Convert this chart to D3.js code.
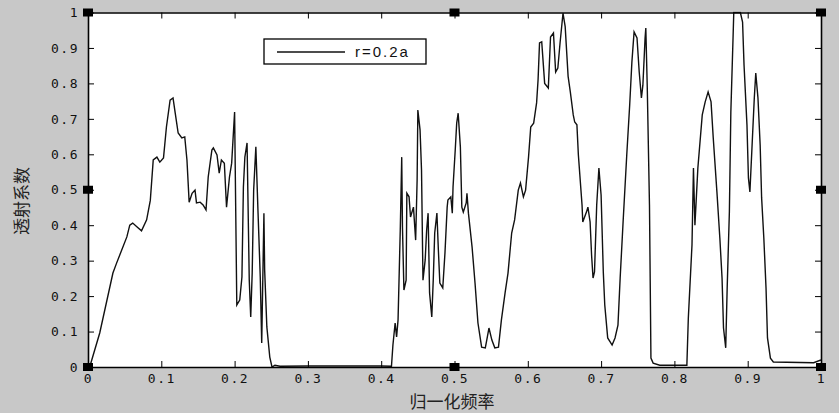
<!DOCTYPE html>
<html><head><meta charset="utf-8">
<script src="https://cdn.jsdelivr.net/npm/d3@7"></script>
<style>
html,body{margin:0;padding:0;background:#c8c8c8;}
svg{display:block;}
</style></head>
<body>
<svg id="chart" width="839" height="413"></svg>
<script>
// ---- data ----
const freq = [
0.000,0.003,0.016,0.034,0.039,0.053,0.057,0.061,0.067,0.073,0.080,0.085,0.089,0.094,0.098,0.103,0.107,0.112,0.116,0.119,
0.123,0.128,0.132,0.135,0.138,0.142,0.146,0.148,0.153,0.157,0.161,0.164,0.169,0.171,0.176,0.179,0.182,0.186,0.189,0.193,
0.196,0.200,0.203,0.207,0.210,0.212,0.214,0.217,0.220,0.222,0.224,0.226,0.229,0.232,0.235,0.237,0.240,0.241,0.244,0.248,
0.251,0.255,0.262,0.300,0.400,0.414,
0.416,0.419,0.421,0.423,0.426,0.428,0.429,0.431,0.434,0.435,0.438,0.440,0.444,0.447,0.449,0.450,0.453,0.455,0.457,0.460,
0.462,0.464,0.466,0.469,0.471,0.473,0.476,0.478,0.480,0.484,0.487,0.490,0.491,0.495,0.497,0.498,0.501,0.503,0.505,0.508,
0.510,0.512,0.516,0.517,0.519,0.524,0.528,0.532,0.537,0.542,0.544,0.547,0.551,0.555,0.560,0.564,0.569,0.573,0.578,0.582,
0.587,0.590,0.594,0.597,0.601,0.604,0.608,0.612,0.614,0.616,0.619,0.623,0.628,0.631,0.635,0.638,0.641,0.644,0.648,0.651,
0.655,0.658,0.662,0.664,0.667,0.669,0.674,0.675,0.680,0.682,0.685,0.687,0.689,0.691,0.694,0.697,0.700,0.703,0.705,0.709,
0.715,0.719,0.723,0.726,0.730,0.735,0.739,0.742,0.745,0.749,0.752,0.755,0.757,0.760,0.761,0.763,0.766,0.768,0.771,0.780,
0.817,0.819,0.824,0.826,0.828,0.832,0.838,0.842,0.846,0.850,0.853,0.858,0.862,0.865,0.867,0.870,0.872,0.875,0.877,0.880,
0.881,0.890,0.893,0.895,0.899,0.901,0.903,0.906,0.909,0.911,0.914,0.917,0.919,0.922,0.925,0.927,0.931,0.935,0.990,1.000
];
const trans = [
0.000,0.005,0.096,0.265,0.293,0.367,0.400,0.406,0.395,0.384,0.415,0.470,0.584,0.592,0.578,0.590,0.677,0.753,0.759,0.716,
0.660,0.646,0.649,0.584,0.465,0.490,0.499,0.463,0.465,0.457,0.443,0.536,0.612,0.618,0.598,0.547,0.584,0.575,0.451,0.536,
0.575,0.719,0.175,0.189,0.254,0.508,0.592,0.632,0.245,0.141,0.265,0.499,0.621,0.434,0.254,0.068,0.434,0.274,0.113,0.028,
0.000,0.005,0.002,0.003,0.003,0.002,
0.062,0.124,0.085,0.133,0.386,0.592,0.395,0.217,0.245,0.490,0.480,0.423,0.451,0.358,0.527,0.725,0.669,0.556,0.245,0.302,
0.386,0.434,0.209,0.141,0.245,0.378,0.434,0.330,0.237,0.223,0.322,0.451,0.471,0.480,0.434,0.508,0.612,0.688,0.716,0.621,
0.451,0.437,0.463,0.490,0.434,0.338,0.237,0.124,0.056,0.054,0.076,0.110,0.076,0.054,0.056,0.133,0.209,0.265,0.378,0.415,
0.499,0.519,0.480,0.499,0.592,0.677,0.688,0.745,0.810,0.914,0.917,0.800,0.787,0.931,0.942,0.832,0.843,0.914,0.998,0.960,
0.820,0.776,0.711,0.691,0.683,0.598,0.457,0.409,0.437,0.451,0.409,0.316,0.251,0.268,0.457,0.561,0.485,0.268,0.175,0.082,
0.062,0.082,0.118,0.251,0.409,0.598,0.739,0.860,0.945,0.928,0.832,0.759,0.795,0.928,0.956,0.787,0.457,0.025,0.011,0.005,
0.005,0.138,0.344,0.561,0.400,0.561,0.711,0.748,0.776,0.748,0.646,0.494,0.364,0.251,0.110,0.054,0.223,0.437,0.719,0.928,
1.000,1.000,0.973,0.852,0.683,0.533,0.494,0.626,0.759,0.829,0.759,0.626,0.477,0.364,0.223,0.082,0.025,0.014,0.012,0.020
];
const xTicks = [0,0.1,0.2,0.3,0.4,0.5,0.6,0.7,0.8,0.9,1];
const xTickLabels = ["0","0.1","0.2","0.3","0.4","0.5","0.6","0.7","0.8","0.9","1"];
const yTicks = [0,0.1,0.2,0.3,0.4,0.5,0.6,0.7,0.8,0.9,1];
const yTickLabels = ["0","0.1","0.2","0.3","0.4","0.5","0.6","0.7","0.8","0.9","1"];
const seriesName = "r=0.2a";
const xTitle = "归一化频率";
const yTitle = "透射系数";
const handleX = [0,0.5,1,0,1,0,0.5,1];
const handleY = [0,0,0,0.5,0.5,1,1,1];

// ---- drawing ----
const svg = d3.select("#chart");
const L = 88, R = 821, T = 12.5, B = 367;
const x = d3.scaleLinear().domain([0,1]).range([L,R]);
const y = d3.scaleLinear().domain([0,1]).range([B,T]);

svg.append("rect").attr("width",839).attr("height",413).attr("fill","#c8c8c8");
svg.append("rect").attr("x",L).attr("y",T).attr("width",R-L).attr("height",B-T).attr("fill","#ffffff");

svg.append("defs").append("clipPath").attr("id","clip")
  .append("rect").attr("x",L).attr("y",T-1).attr("width",R-L).attr("height",B-T+1);

const pts = freq.map((f,i)=>[f,trans[i]]);
svg.append("path").datum(pts)
  .attr("clip-path","url(#clip)")
  .attr("fill","none").attr("stroke","#111").attr("stroke-width",1.4)
  .attr("stroke-linejoin","miter")
  .attr("d", d3.line().x(d=>x(d[0])).y(d=>y(d[1])));

const tickFont = "'DejaVu Sans Mono', monospace";
function styleAxis(g, labels){
  g.select(".domain").attr("stroke","#000").attr("stroke-width",1.6);
  g.selectAll(".tick line").attr("stroke","#000").attr("stroke-width",1);
  g.selectAll(".tick text").attr("fill","#111").style("font-family",tickFont)
    .style("font-size","13px").style("letter-spacing","1.5px");
  if(!labels) g.selectAll(".tick text").remove();
}
svg.append("g").attr("transform",`translate(0,${B})`)
  .call(d3.axisBottom(x).tickValues(xTicks).tickFormat((d,i)=>xTickLabels[i]).tickSizeInner(-6).tickSizeOuter(0).tickPadding(7))
  .call(g=>styleAxis(g,true));
svg.append("g").attr("transform",`translate(0,${T})`)
  .call(d3.axisTop(x).tickValues(xTicks).tickSizeInner(-6).tickSizeOuter(0))
  .call(g=>styleAxis(g,false));
svg.append("g").attr("transform",`translate(${L},0)`)
  .call(d3.axisLeft(y).tickValues(yTicks).tickFormat((d,i)=>yTickLabels[i]).tickSizeInner(-6).tickSizeOuter(0).tickPadding(9))
  .call(g=>styleAxis(g,true));
svg.append("g").attr("transform",`translate(${R},0)`)
  .call(d3.axisRight(y).tickValues(yTicks).tickSizeInner(-6).tickSizeOuter(0))
  .call(g=>styleAxis(g,false));

// selection handles
svg.append("g").selectAll("rect").data(handleX).join("rect")
  .attr("x",(d,i)=>x(d)-5).attr("y",(d,i)=>y(handleY[i])-4)
  .attr("width",10).attr("height",8).attr("fill","#000");

// legend
const lg = svg.append("g");
lg.append("rect").attr("x",264).attr("y",39).attr("width",162).attr("height",25)
  .attr("fill","#fff").attr("stroke","#000").attr("stroke-width",1.3);
lg.append("line").attr("x1",277).attr("x2",345).attr("y1",52).attr("y2",52)
  .attr("stroke","#111").attr("stroke-width",1.4);
lg.append("text").attr("x",355).attr("y",57).text(seriesName)
  .style("font-family","'Liberation Sans', Arial, sans-serif").style("font-size","15px")
  .style("letter-spacing","2px").attr("fill","#111");

// titles
svg.append("text").attr("x",452).attr("y",408).attr("text-anchor","middle")
  .style("font-family","'Noto Sans CJK SC', sans-serif").style("font-size","17px").attr("fill","#222")
  .text(xTitle);
svg.append("text").attr("transform","translate(28,201) rotate(-90)").attr("text-anchor","middle")
  .style("font-family","'Noto Sans CJK SC', sans-serif").style("font-size","17px").attr("fill","#222")
  .text(yTitle);
</script>
</body></html>
